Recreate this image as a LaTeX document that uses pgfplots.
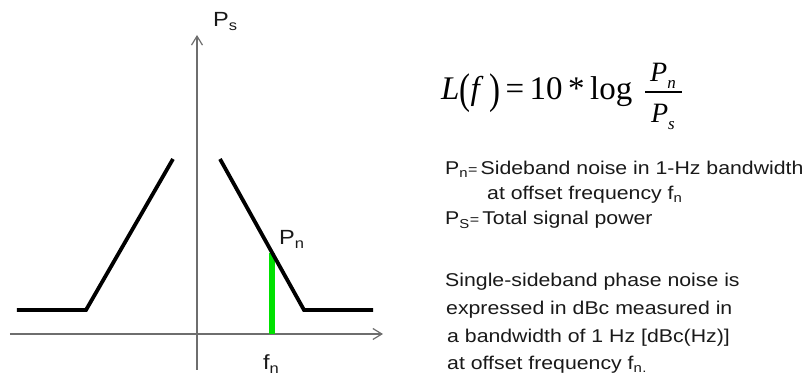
\documentclass[border=0pt]{standalone}
\usepackage{graphicx}
\usepackage{fontspec}
\usepackage{pgfplots}
\pgfplotsset{compat=1.18}
\usetikzlibrary{arrows.meta}
\setmainfont{Liberation Sans}
\newfontfamily\labelfont[FakeStretch=1.15]{Liberation Sans}
\newfontfamily\eqfont{Liberation Serif}
\definecolor{axisgray}{RGB}{110,110,110}
\definecolor{noisegreen}{RGB}{0,225,0}
\definecolor{inkgray}{RGB}{25,25,25}
\newcommand{\txt}{\color{inkgray}\labelfont\fontsize{18.5}{22}\selectfont}
\newcommand{\lbl}{\color{inkgray}\labelfont\fontsize{20.5}{24}\selectfont}
\newcommand{\tallparen}[1]{\raisebox{-0.12em}{\scalebox{1}[1.3]{#1}}}

\begin{document}
\begin{tikzpicture}
\begin{axis}[
  x=1pt, y=1pt,
  anchor=origin, at={(0,0)},
  xmin=-187, xmax=186, ymin=-36, ymax=299,
  axis lines=middle,
  axis line style={draw=axisgray, line width=1.2pt,
    -{Straight Barb[length=9pt,width=11pt,line width=1.2pt]}},
  ticks=none,
  clip=false,
]
% measured power spectrum: noise floor, skirts and carrier gap
\addplot[noisegreen, line width=6pt, line cap=butt] coordinates {(75,0) (75,81)};
\addplot[black, line width=3.8pt, line join=miter] coordinates {(-180,24) (-111,24) (-24,175)};
\addplot[black, line width=3.8pt, line join=miter] coordinates {(23,175) (107,24) (176,24)};

% labels in the spectrum
\node[anchor=base west, inner sep=0pt] at (axis cs:16,307) {\lbl P\textsubscript{s}};
\node[anchor=base west, inner sep=0pt] at (axis cs:82,89) {\lbl P\textsubscript{n}};
\node[anchor=base west, inner sep=0pt] at (axis cs:66,-36) {\lbl f\textsubscript{n}};

% definition of the phase noise
\node[anchor=base west, inner sep=0pt] at (axis cs:244,234)
  {\eqfont\fontsize{33}{36}\selectfont\textit{L}\tallparen{(}\textit{f}\,\tallparen{)}\,=\,10\,*\,log};
\node[anchor=base, inner sep=0pt] at (axis cs:466,252)
  {\eqfont\fontsize{28}{30}\selectfont\textit{P}\raisebox{-0.25em}{\fontsize{17}{18}\selectfont\textit{n}}};
\draw[black, line width=1.2pt] (axis cs:448,242) -- (axis cs:485,242);
\node[anchor=base, inner sep=0pt] at (axis cs:466,211)
  {\eqfont\fontsize{28}{30}\selectfont\textit{P}\raisebox{-0.25em}{\fontsize{17}{18}\selectfont\textit{s}}};

% explanatory text
\node[anchor=base west, inner sep=0pt] at (axis cs:248,159)
  {\txt P\textsubscript{n}{\fontsize{14}{16}\selectfont=}\,Sideband noise in 1-Hz bandwidth};
\node[anchor=base west, inner sep=0pt] at (axis cs:290,134)
  {\txt at offset frequency f\textsubscript{n}};
\node[anchor=base west, inner sep=0pt] at (axis cs:248,109)
  {\txt P\textsubscript{S}{\fontsize{14}{16}\selectfont=}\,Total signal power};
\node[anchor=base west, inner sep=0pt] at (axis cs:248,47)
  {\txt Single-sideband phase noise is};
\node[anchor=base west, inner sep=0pt] at (axis cs:249,19)
  {\txt expressed in dBc measured in};
\node[anchor=base west, inner sep=0pt] at (axis cs:250,-9)
  {\txt a bandwidth of 1 Hz [dBc(Hz)]};
\node[anchor=base west, inner sep=0pt] at (axis cs:250,-36)
  {\txt at offset frequency f\textsubscript{n}\textsubscript{.}};

\coordinate (bl) at (axis cs:-197,-43);
\coordinate (tr) at (axis cs:606,334);
\end{axis}
\pgfresetboundingbox
\path (bl) rectangle (tr);
\end{tikzpicture}
\end{document}
